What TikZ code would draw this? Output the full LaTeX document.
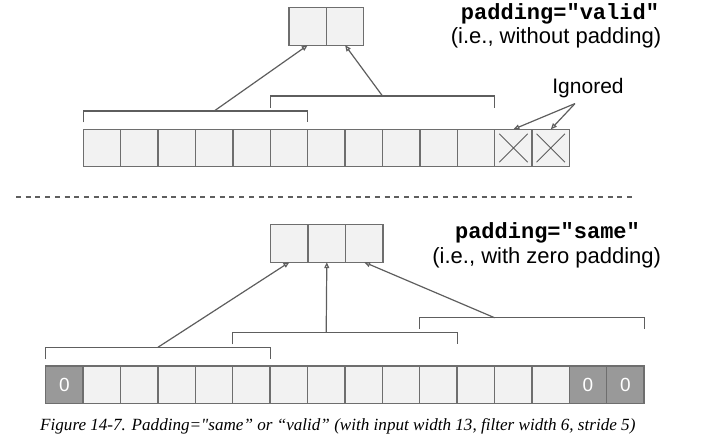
\documentclass[tikz,border=0pt]{standalone}
\usepackage{fontspec}
\setmainfont{Liberation Sans}
\setmonofont{Liberation Mono}
\newfontfamily\capfont{Liberation Serif}
\usepackage{tikz}
\usetikzlibrary{arrows.meta, positioning, calc}
\definecolor{cellFill}{HTML}{F2F2F2}
\definecolor{cellLine}{HTML}{6E6E6E}
\definecolor{zeroFill}{HTML}{999999}
\definecolor{lineGray}{HTML}{5E5E5E}

\begin{document}
\begin{tikzpicture}[
    x=1pt, y=-1pt,
    cell/.style={rectangle, draw=cellLine, line width=1.3pt, fill=cellFill, minimum width=37.4pt, minimum height=37.4pt, inner sep=0pt, outer sep=0pt},
    zero/.style={cell, fill=zeroFill, text=white, font=\fontsize{19}{22}\selectfont},
    bracket/.style={draw=lineGray, line width=1.2pt},
    link/.style={-{Triangle[open, length=6pt, width=5pt]}, draw=lineGray, line width=1.2pt},
    cross/.style={draw=lineGray, line width=0.9pt},
    dashline/.style={draw=lineGray, line width=1.6pt, dash pattern=on 5pt off 4.7pt},
    title/.style={font=\ttfamily\bfseries\fontsize{22}{26}\selectfont, anchor=base, inner sep=0pt},
    note/.style={font=\fontsize{22}{26}\selectfont, anchor=base, inner sep=0pt}
]
\useasboundingbox (0,0) rectangle (703,437);

% ============== padding="valid" (arriba) ==============
\node[title] (validtitle) at (560,19.3) {padding="valid"};
\node[note] (validnote) at (556,43.3) {(i.e., without padding)};

\node[cell] (o1) at (307.7,26.5) {};
\node[cell, right=0pt of o1] (o2) {};

\node[cell] (t1) at (102,148) {};
\foreach \i [evaluate=\i as \j using int(\i-1)] in {2,...,13}
    \node[cell, right=0pt of t\j] (t\i) {};

% cruces en las celdas ignoradas
\foreach \k in {12,13}
    \draw[cross] ([shift={(4.5pt,-4.5pt)}]t\k.north west) -- ([shift={(-4.5pt,4.5pt)}]t\k.south east)
                 ([shift={(-4.5pt,-4.5pt)}]t\k.north east) -- ([shift={(4.5pt,4.5pt)}]t\k.south west);

% corchetes de ventana (filtro 6, paso 5)
\draw[bracket] ([yshift=7pt]t1.north west) |- ([yshift=18.3pt]t6.north east) -- ([yshift=7pt]t6.north east);
\draw[bracket] ([yshift=21.6pt]t6.north west) |- ([yshift=33.3pt]t11.north east) -- ([yshift=21.6pt]t11.north east);
\coordinate (v1) at ([yshift=18.3pt]t4.north);
\coordinate (v2) at ([yshift=33.3pt]t8.north east);

\draw[link] (v1) -- (o1.south);
\draw[link] (v2) -- (o2.south);

\node[note, font=\fontsize{21}{25}\selectfont] (ignored) at (588,93) {Ignored};
\coordinate (ig) at ([xshift=-13pt, yshift=-6pt]ignored.south);
\draw[link] (ig) -- (t12.north);
\draw[link] (ig) -- (t13.north);

% ============== Separador ==============
\draw[dashline] (16,197) -- (636,197);

% ============== padding="same" (abajo) ==============
\node[title] (sametitle) at (547.5,238.3) {padding="same"};
\node[note] (samenote) at (546.7,263.3) {(i.e., with zero padding)};

\node[cell] (p1) at (289.4,243.5) {};
\node[cell, right=0pt of p1] (p2) {};
\node[cell, right=0pt of p2] (p3) {};

\node[zero] (b1) at (64.4,384.7) {0};
\foreach \i [evaluate=\i as \j using int(\i-1)] in {2,...,14}
    \node[cell, right=0pt of b\j] (b\i) {};
\node[zero, right=0pt of b14] (b15) {0};
\node[zero, right=0pt of b15] (b16) {0};

\draw[bracket] ([yshift=7pt]b1.north west) |- ([yshift=18.7pt]b6.north east) -- ([yshift=7pt]b6.north east);
\draw[bracket] ([yshift=21.7pt]b6.north west) |- ([yshift=33.3pt]b11.north east) -- ([yshift=21.7pt]b11.north east);
\draw[bracket] ([yshift=37pt]b11.north west) |- ([yshift=48.3pt]b16.north east) -- ([yshift=37pt]b16.north east);
\coordinate (s1) at ([yshift=18.7pt]b3.north east);
\coordinate (s2) at ([yshift=33.3pt]b8.north);
\coordinate (s3) at ([yshift=48.3pt]b12.north east);

\draw[link] (s1) -- (p1.south);
\draw[link] (s2) -- (p2.south);
\draw[link] (s3) -- (p3.south);

% ============== Pie de figura ==============
\node[anchor=base west, inner sep=0pt, font=\capfont\itshape\fontsize{17.1}{20}\selectfont] (caption) at (40,430)
    {Figure 14-7. Padding="same” or “valid” (with input width 13, filter width 6, stride 5)};
\end{tikzpicture}
\end{document}
